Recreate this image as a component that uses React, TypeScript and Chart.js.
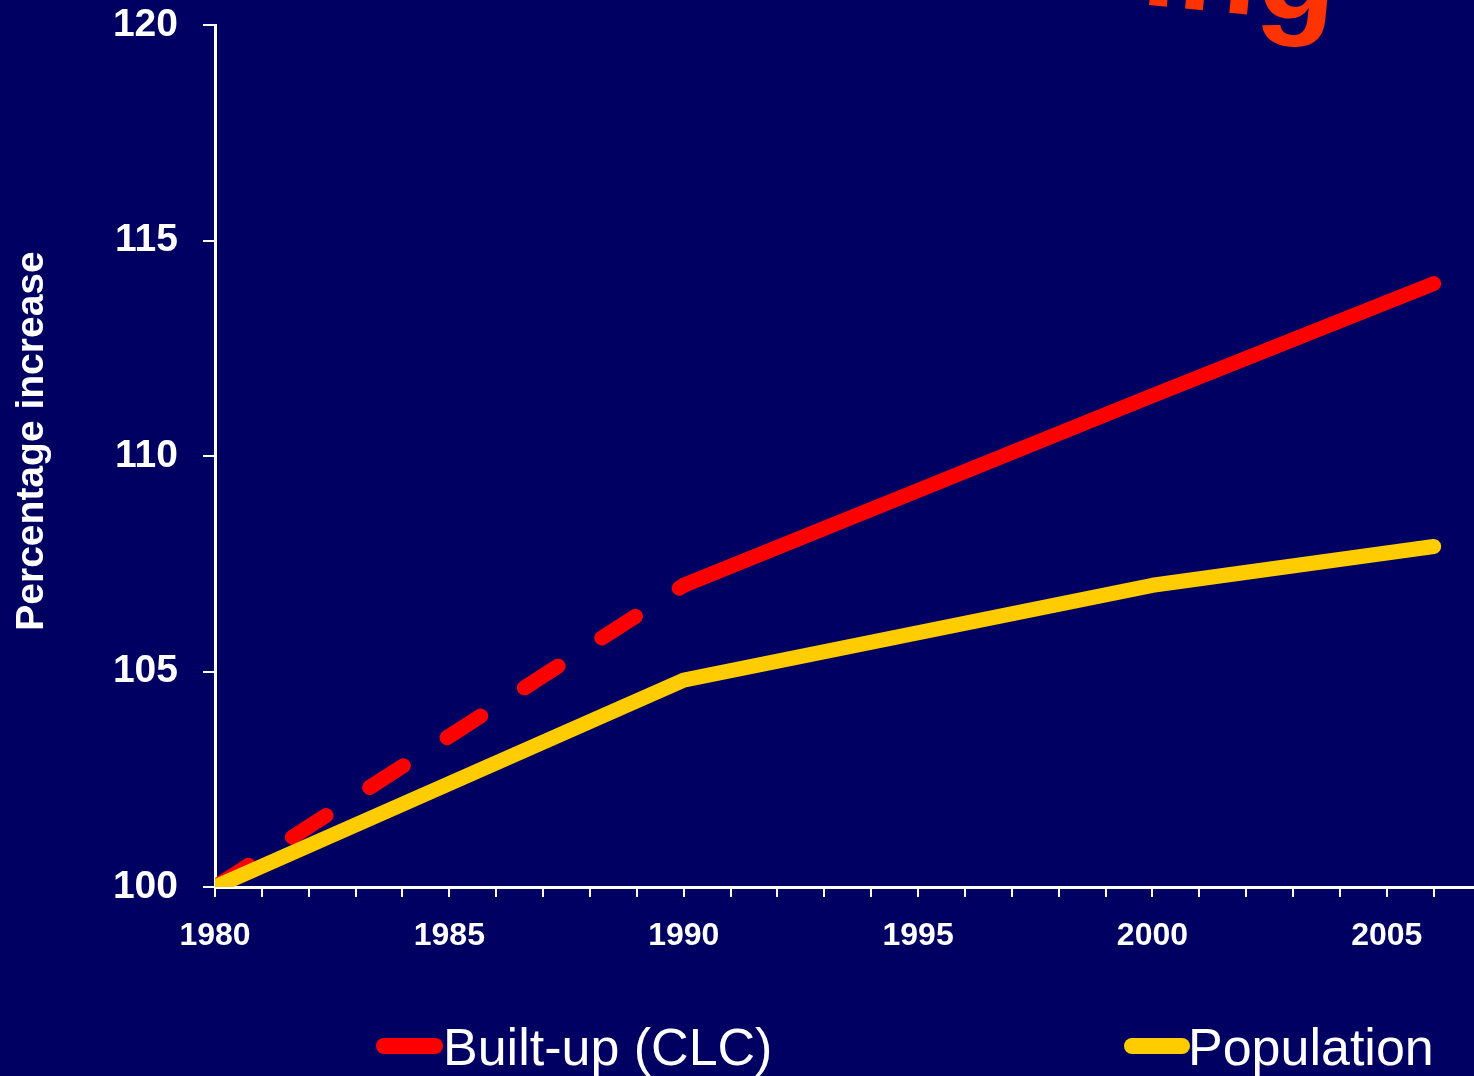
import React, { useEffect, useRef } from "react";
import { Chart, registerables } from "chart.js";

Chart.register(...registerables);

// ---- Data ----
const builtUpYears = [1980, 1990, 2000, 2006];
const builtUpValues = [100, 107.0, 111.4, 114.0];
const populationYears = [1980, 1990, 2000, 2006];
const populationValues = [100, 104.8, 107.0, 107.9];
const seriesNames = ["Built-up (CLC)", "Population"];
const seriesColors = ["#ff0000", "#ffcc00"];
const yAxisTitle = "Percentage increase";
const titleFragment = "ing";
const yMin = 100;
const yMax = 120;
const yStep = 5;
const xMin = 1980;
const xMax = 2006.86;
const xLabelEvery = 5;
const dashedUntilYear = 1990;

const BG = "#000062";
const FONT = '"Liberation Sans", Arial, Helvetica, sans-serif';

const decorPlugin = {
  id: "decor",
  afterDraw(chart: any) {
    const ctx = chart.ctx;
    ctx.save();
    // Partially visible title fragment
    ctx.save();
    ctx.translate(1140, 4);
    ctx.rotate(0.1);
    ctx.font = `bold 130px ${FONT}`;
    ctx.fillStyle = "#ff3300";
    ctx.textAlign = "left";
    ctx.textBaseline = "alphabetic";
    ctx.fillText(titleFragment, 0, 0);
    ctx.restore();

    // Y axis title
    ctx.save();
    ctx.translate(32, 441);
    ctx.rotate(-Math.PI / 2);
    ctx.font = `bold 39px ${FONT}`;
    ctx.fillStyle = "#ffffff";
    ctx.textAlign = "center";
    ctx.textBaseline = "middle";
    ctx.fillText(yAxisTitle, 0, 0);
    ctx.restore();

    // Legend
    const items = [
      { x0: 384, x1: 435, textX: 443 },
      { x0: 1132, x1: 1182, textX: 1188 },
    ];
    items.forEach((it, i) => {
      ctx.beginPath();
      ctx.strokeStyle = seriesColors[i];
      ctx.lineWidth = 16;
      ctx.lineCap = "round";
      ctx.moveTo(it.x0, 1046);
      ctx.lineTo(it.x1, 1046);
      ctx.stroke();
      ctx.font = `52px ${FONT}`;
      ctx.fillStyle = "#ffffff";
      ctx.textAlign = "left";
      ctx.textBaseline = "alphabetic";
      ctx.fillText(seriesNames[i], it.textX, 1065);
    });
    ctx.restore();
  },
};

export default function App() {
  const ref = useRef<HTMLCanvasElement | null>(null);

  useEffect(() => {
    document.body.style.margin = "0";
    document.body.style.background = BG;
    const canvas = ref.current;
    if (!canvas) return;
    const chart = new Chart(canvas, {
      type: "line",
      data: {
        datasets: [
          {
            label: seriesNames[0],
            data: builtUpYears.map((x, i) => ({ x, y: builtUpValues[i] })),
            borderColor: seriesColors[0],
            borderWidth: 15,
            borderCapStyle: "round",
            borderJoinStyle: "round",
            pointRadius: 0,
            tension: 0,
            order: 1,
            segment: {
              borderDash: (c: any) =>
                c.p1.parsed.x <= dashedUntilYear ? [40, 52] : undefined,
            },
          } as any,
          {
            label: seriesNames[1],
            data: populationYears.map((x, i) => ({ x, y: populationValues[i] })),
            borderColor: seriesColors[1],
            borderWidth: 15,
            borderCapStyle: "round",
            borderJoinStyle: "round",
            pointRadius: 0,
            tension: 0,
            order: 0,
          } as any,
        ],
      },
      options: {
        responsive: false,
        animation: false,
        devicePixelRatio: 1,
        layout: { autoPadding: false, padding: { top: 25, left: 0, right: 0, bottom: 0 } },
        plugins: {
          legend: { display: false },
          tooltip: { enabled: false },
          title: { display: false },
        },
        scales: {
          x: {
            type: "linear",
            min: xMin,
            max: xMax,
            afterFit: (s: any) => {
              s.height = 1076 - 887;
              s.paddingLeft = 0;
              s.paddingRight = 0;
              s.paddingTop = 0;
              s.paddingBottom = 0;
            },
            border: { color: "#ffffff", width: 3 },
            grid: {
              drawOnChartArea: false,
              color: "#ffffff",
              tickLength: 10,
              tickWidth: 2,
              lineWidth: 2,
            },
            ticks: {
              stepSize: 1,
              includeBounds: false,
              autoSkip: false,
              maxRotation: 0,
              color: "#ffffff",
              padding: 20,
              font: { family: FONT, size: 32, weight: "bold" },
              callback: (v: any) => (Number(v) % xLabelEvery === 0 ? String(v) : ""),
            },
          },
          y: {
            type: "linear",
            min: yMin,
            max: yMax,
            afterFit: (s: any) => {
              s.width = 215;
              s.paddingLeft = 0;
              s.paddingRight = 0;
              s.paddingTop = 0;
              s.paddingBottom = 0;
            },
            border: { color: "#ffffff", width: 3 },
            grid: {
              drawOnChartArea: false,
              color: "#ffffff",
              tickLength: 12,
              tickWidth: 2,
              lineWidth: 2,
            },
            ticks: {
              stepSize: yStep,
              color: "#ffffff",
              padding: 25,
              font: { family: FONT, size: 39, weight: "bold" },
            },
          },
        },
      },
      plugins: [decorPlugin],
    });
    return () => chart.destroy();
  }, []);

  return (
    <div
      style={{
        position: "fixed",
        left: 0,
        top: 0,
        width: 1474,
        height: 1076,
        background: BG,
        overflow: "hidden",
      }}
    >
      <canvas ref={ref} width={1474} height={1076} style={{ display: "block" }} />
    </div>
  );
}
